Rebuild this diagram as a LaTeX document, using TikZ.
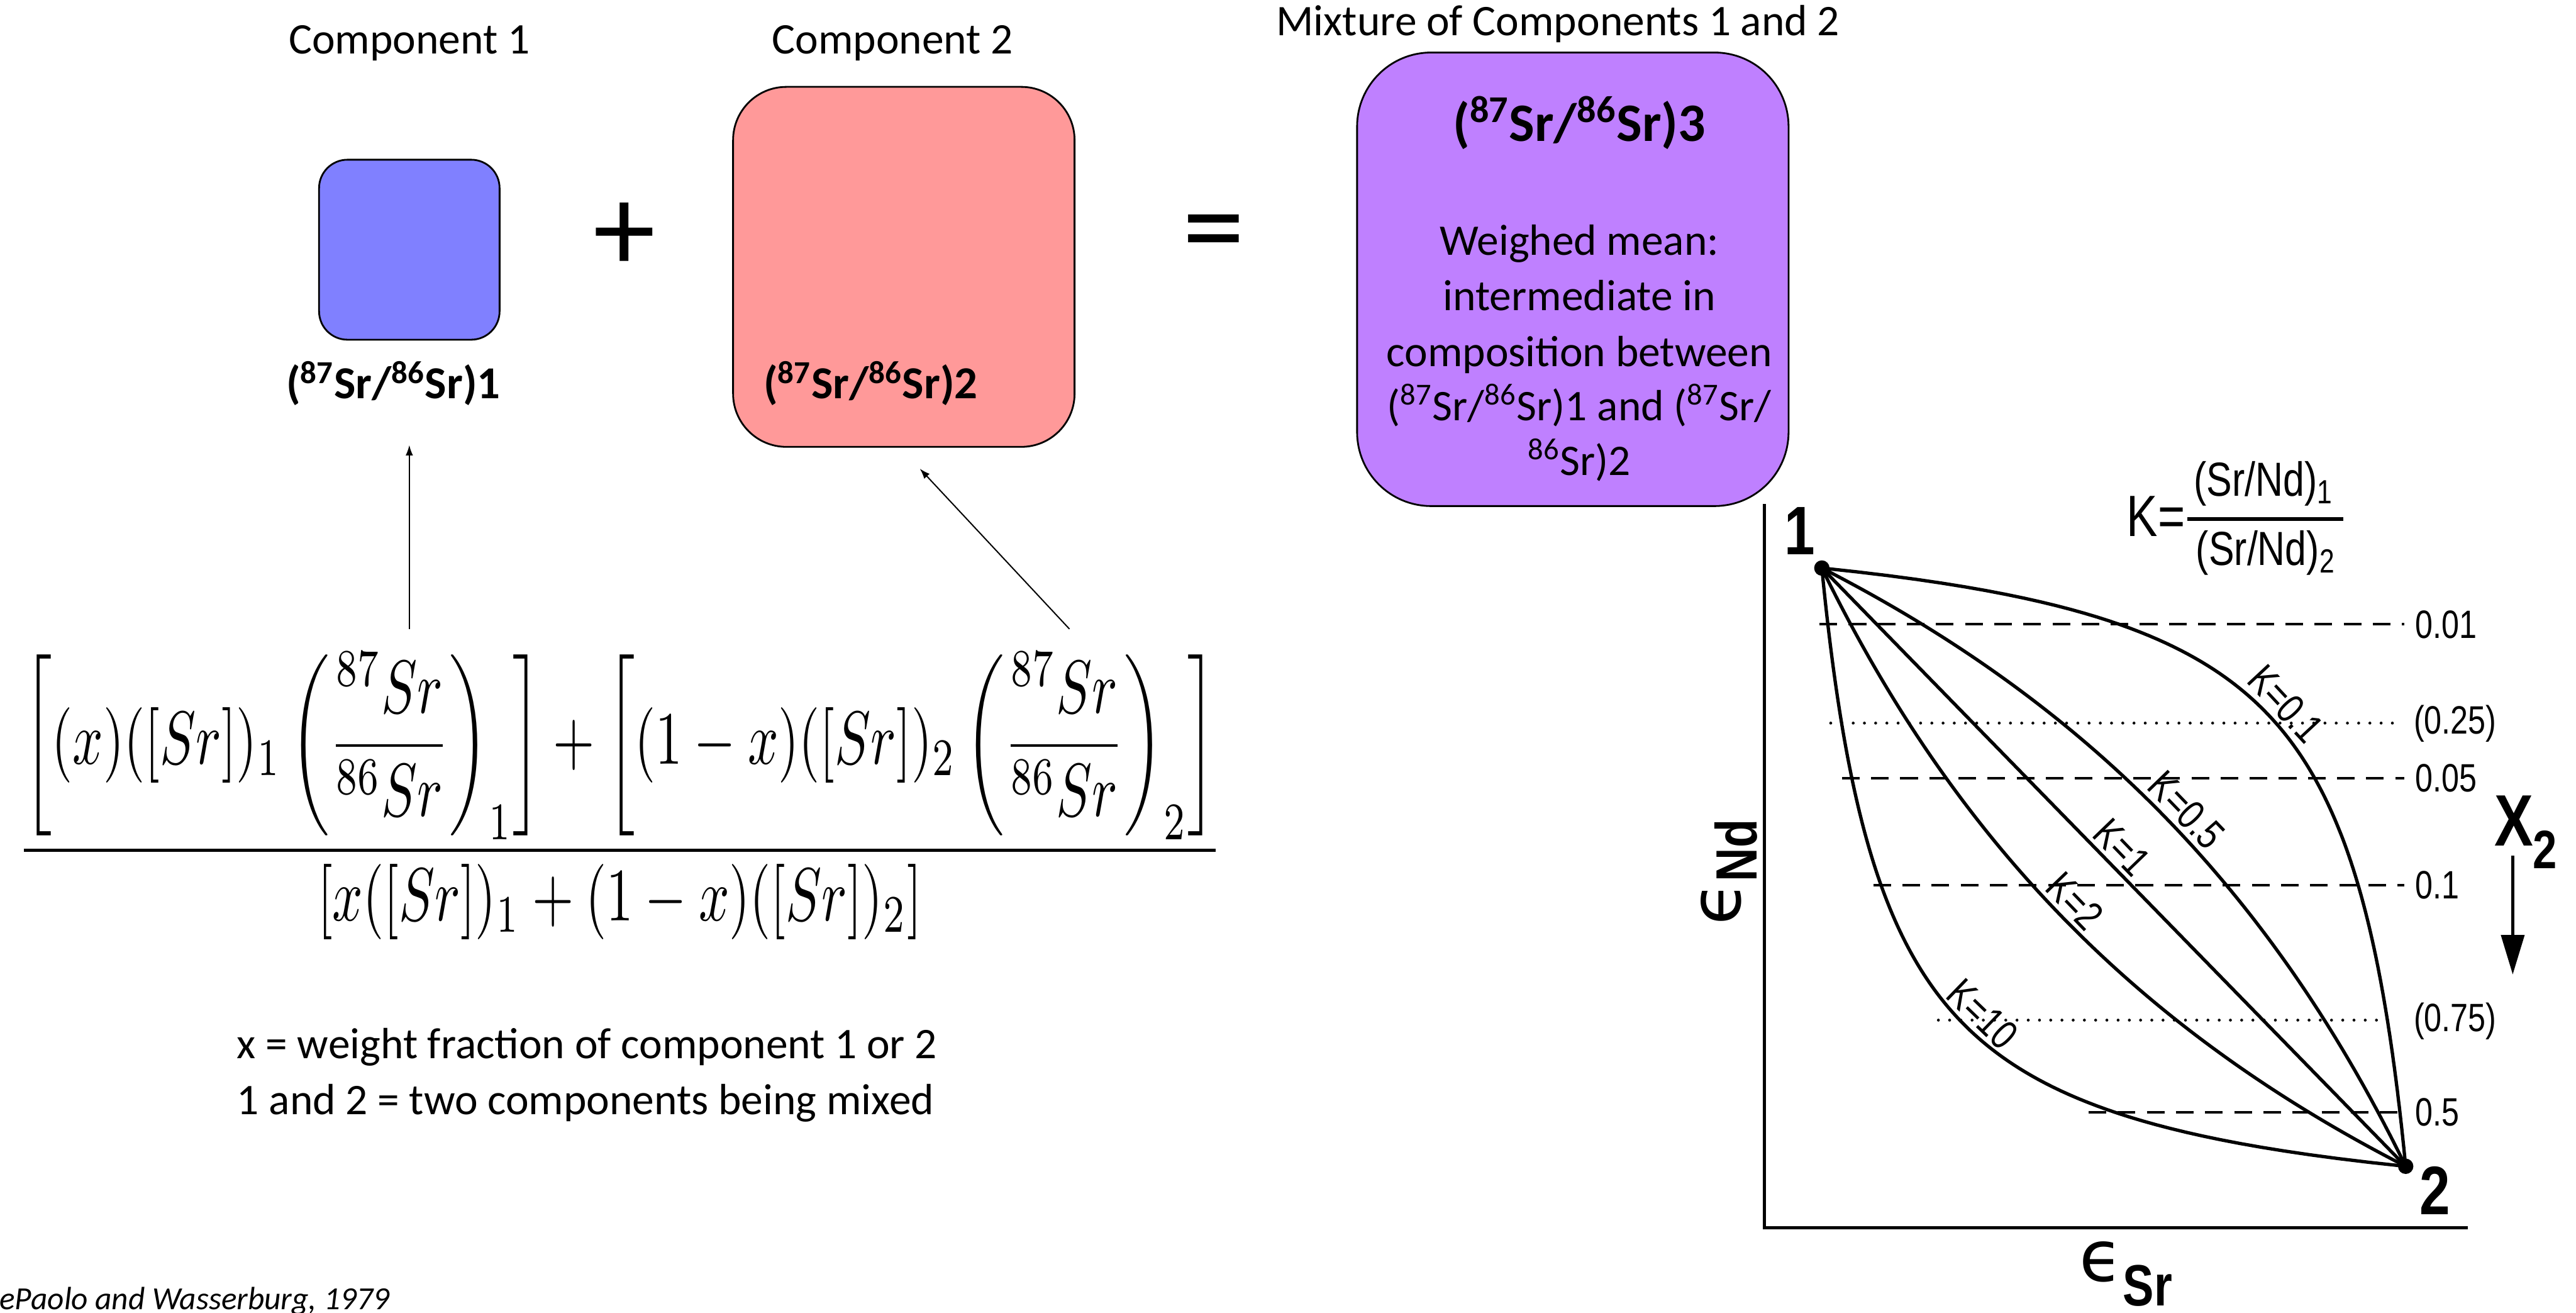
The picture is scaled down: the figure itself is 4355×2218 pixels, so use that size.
\documentclass[tikz,border=0pt]{standalone}
\usepackage{amsmath}
\usepackage{graphicx}
\usepackage{fontspec}
\setmainfont{Carlito}
\newfontfamily\gf[FakeStretch=0.8]{Liberation Sans}
\newfontfamily\dvs{DejaVu Sans}
\usetikzlibrary{arrows.meta}
\newcommand\fsz[1]{\fontsize{#1}{#1}\selectfont}
\newcommand\srratio[1]{(\textsuperscript{87}Sr/\textsuperscript{86}Sr)#1}
\definecolor{cone}{HTML}{8080FF}
\definecolor{ctwo}{HTML}{FF9999}
\definecolor{cthree}{HTML}{BF80FF}
\tikzset{
  box/.style={draw=black, line width=0.85pt, inner sep=0pt},
  lbl/.style={font=\fsz{21}, inner sep=0pt},
  bl/.style={font=\bfseries\fsz{22}, inner sep=0pt},
  conn/.style={line width=0.6pt, -{Latex[length=5pt,width=3.5pt]}},
  axisln/.style={line width=1.7pt},
  curveln/.style={line width=1.6pt},
  dashln/.style={line width=1.2pt, dash pattern=on 8.5pt off 5.5pt},
  dotln/.style={line width=1.4pt, dash pattern=on 0pt off 5.4pt, line cap=round},
  gv/.style={font=\gf\fsz{19}, inner sep=0pt, anchor=west},
  kl/.style={font=\gf\fsz{20}, inner sep=2.5pt, anchor=south},
}
\begin{document}
\begin{tikzpicture}[x=0.01cm, y=-0.01cm]
\useasboundingbox (0,0) rectangle (4355,2218);
\fill[white] (0,0) rectangle (4355,2218);

% titles
\node[lbl, anchor=base] (comp1) at (692,91) {Component 1};
\node[lbl, anchor=base] (comp2) at (1509,91) {Component 2};
\node[lbl, anchor=base] (mixt) at (2634,60) {Mixture of Components 1 and 2};

% boxes
\node[box, fill=cone, rounded corners=0.48cm, minimum width=3.05cm, minimum height=3.04cm] (b1) at (692,422) {};
\node[box, fill=ctwo, rounded corners=0.9cm, minimum width=5.77cm, minimum height=6.08cm] (b2) at (1528,451) {};
\node[box, fill=cthree, rounded corners=1.25cm, minimum width=7.29cm, minimum height=7.66cm] (b3) at (2659,472) {};

\node[bl, anchor=base] (lab1) at (665,674) {\srratio{1}};
\node[bl, anchor=base] (lab2) at (1472,674) {\srratio{2}};

\node[font=\fsz{60}, inner sep=0pt] (plus) at (1056,401) {+};
\node[font=\fsz{60}, inner sep=0pt] (equal) at (2052,408) {=};

% mixture text
\node[font=\bfseries\fsz{26}, inner sep=0pt, anchor=base] (t3) at (2670,239) {\srratio{3}};
\node[lbl, anchor=base] (m1) at (2670,431) {Weighed mean:};
\node[lbl, anchor=base] (m2) at (2670,525) {intermediate in};
\node[lbl, anchor=base] (m3) at (2670,619) {composition between};
\node[lbl, anchor=base] (m4) at (2670,711) {(\textsuperscript{87}Sr/\textsuperscript{86}Sr)1 and (\textsuperscript{87}Sr/};
\node[lbl, anchor=base] (m5) at (2670,803) {\textsuperscript{86}Sr)2};

% formula
\node[inner sep=0pt] (formula) at (1048,1345) {\resizebox*{20.36cm}{4.86cm}{$\displaystyle\frac{\left[(x)([Sr])_{1}\left(\dfrac{{}^{87}Sr}{{}^{86}Sr}\right)_{1}\right]+\left[(1-x)([Sr])_{2}\left(\dfrac{{}^{87}Sr}{{}^{86}Sr}\right)_{2}\right]}{\left[x([Sr])_{1}+(1-x)([Sr])_{2}\right]}$}};

\coordinate (a1s) at (692,1063);
\coordinate (a1e) at (692,752);
\coordinate (a2s) at (1808,1063);
\coordinate (a2e) at (1555,792);
\draw[conn] (a1s) -- (a1e);
\draw[conn] (a2s) -- (a2e);

\node[lbl, anchor=base west] (note1) at (400,1789) {x = weight fraction of component 1 or 2};
\node[lbl, anchor=base west] (note2) at (400,1883) {1 and 2 = two components being mixed};

\node[font=\itshape\fsz{15.5}, anchor=base west, inner sep=0pt] (cite) at (-35,2213) {DePaolo and Wasserburg, 1979};

% ---------- graph ----------
\coordinate (ax0) at (2983,852);
\coordinate (axo) at (2983,2075);
\coordinate (ax1) at (4172,2075);
\draw[axisln] (ax0) -- (axo) -- (ax1);

% horizontal X2 lines
\draw[dashln] (3076,1055) -- (4065,1055);
\draw[dotln] (3095,1222) -- (4055,1222);
\draw[dashln] (3114,1315) -- (4065,1315);
\draw[dashln] (3167,1496) -- (4065,1496);
\draw[dotln] (3277,1724) -- (4055,1724);
\draw[dashln] (3531,1880) -- (4065,1880);

\node[gv] (v1) at (4083,1056) {0.01};
\node[gv] (v2) at (4080,1223) {(0.25)};
\node[gv] (v3) at (4083,1315) {0.05};
\node[gv] (v4) at (4083,1496) {0.1};
\node[gv] (v5) at (4080,1726) {(0.75)};
\node[gv] (v6) at (4083,1880) {0.5};

% mixing curves
\foreach \K in {0.1,0.5,1,2,10}{
  \draw[curveln] plot[variable=\v, domain=0:1, samples=160] ({3080+987*\v/(\K*(1-\v)+\v)},{960+1011*\v});
}
\node[kl, rotate=-47] (k01) at ({3080+987*0.25/(0.1*0.75+0.25)},{960+1011*0.25}) {K=0.1};
\node[kl, rotate=-46] (k05) at ({3080+987*0.428/(0.5*0.572+0.428)},{960+1011*0.428}) {K=0.5};
\node[kl, rotate=-46] (k1) at ({3080+987*0.49},{960+1011*0.49}) {K=1};
\node[kl, rotate=-46] (k2) at ({3080+987*0.58/(2*0.42+0.58)},{960+1011*0.58}) {K=2};
\node[kl, rotate=-44] (k10) at ({3080+987*0.77/(10*0.23+0.77)},{960+1011*0.77}) {K=10};

% end points
\fill (3080,960) circle (13);
\fill (4067,1971) circle (13);
\node[font=\gf\bfseries\fsz{33}, inner sep=0pt] (p1) at (3043,897) {1};
\node[font=\gf\bfseries\fsz{33}, inner sep=0pt] (p2) at (4117,2012) {2};

% K formula
\node[font=\gf\fsz{28}, inner sep=0pt] (kk) at (3645,872) {K=};
\coordinate (kb1) at (3698,877);
\coordinate (kb2) at (3962,877);
\draw[line width=1.6pt] (kb1) -- (kb2);
\node[font=\gf\fsz{23}, inner sep=0pt, anchor=base west] (knum) at (3708,838) {(Sr/Nd)\textsubscript{1}};
\node[font=\gf\fsz{23}, inner sep=0pt, anchor=base west] (kden) at (3712,955) {(Sr/Nd)\textsubscript{2}};

% X2
\node[font=\gf\bfseries\fsz{35}, inner sep=0pt] (xx) at (4250,1387) {X};
\node[font=\gf\bfseries\fsz{26}, inner sep=0pt] (xsub) at (4302,1436) {2};
\coordinate (x2a) at (4248,1446);
\coordinate (x2b) at (4248,1647);
\draw[line width=1.7pt, -{Triangle[length=19pt,width=11pt]}] (x2a) -- (x2b);

% axis labels
\node[rotate=90, anchor=base west, inner sep=0pt] (eNd) at (2942,1564) {{\dvs\fsz{34}ϵ}\raisebox{-8pt}{\gf\bfseries\fsz{28}Nd}};
\node[anchor=base west, inner sep=0pt] (eSr) at (3515,2165) {{\dvs\fsz{34}ϵ}\raisebox{-12pt}{\gf\bfseries\fsz{28}Sr}};
\end{tikzpicture}
\end{document}
